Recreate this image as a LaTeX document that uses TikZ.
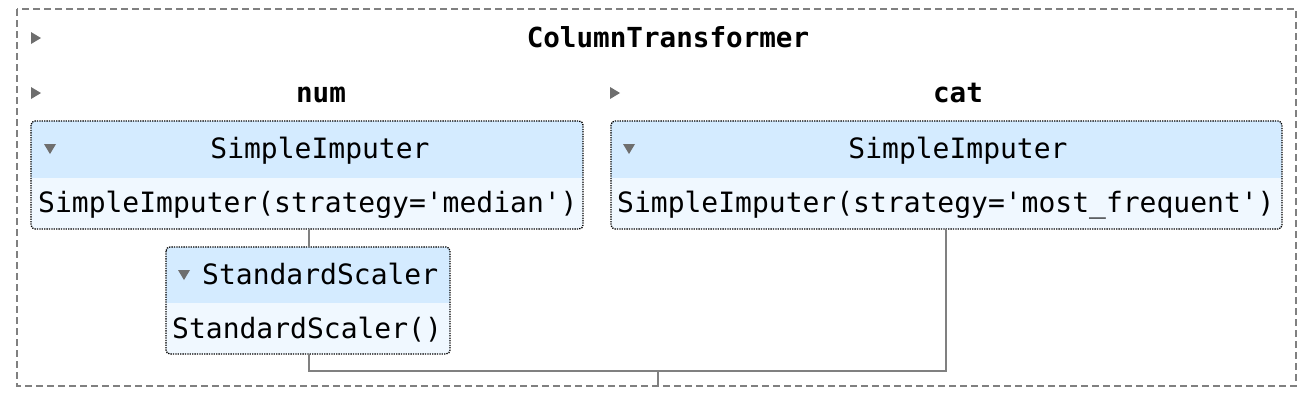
\documentclass[tikz,border=0pt]{standalone}
\usepackage{fontspec}
\setmonofont{DejaVu Sans Mono}
\begin{document}
\begin{tikzpicture}[x=1pt,y=-1pt,
  txt/.style={font=\ttfamily\fontsize{28}{30}\selectfont, inner sep=0pt, anchor=base},
  ttl/.style={font=\ttfamily\bfseries\fontsize{27.6}{30}\selectfont, inner sep=0pt, anchor=base},
  hdr/.style={fill=hdrblue, draw=none},
  bdy/.style={fill=bodyblue, draw=none},
  frame/.style={draw=black, line width=1.3pt, dash pattern=on 1.3pt off 1.1pt, rounded corners=4pt},
  conn/.style={draw=linegray, line width=2pt},
  tri/.style={fill=trigray, draw=none}
]
\definecolor{hdrblue}{HTML}{D4EBFF}
\definecolor{bodyblue}{HTML}{F0F8FF}
\definecolor{linegray}{HTML}{808080}
\definecolor{trigray}{HTML}{6E6E6E}
\useasboundingbox (0,0) rectangle (1307,407);
% outer dashed frame
\draw[draw=linegray, line width=1.5pt, dash pattern=on 7pt off 4pt] (17,9) rectangle (1296,386);
% header triangles
\fill[tri] (31,32) -- (41,38) -- (31,44) -- cycle;
\fill[tri] (31,87) -- (41,93) -- (31,99) -- cycle;
\fill[tri] (610,87) -- (620,93) -- (610,99) -- cycle;
\node[ttl] (ct) at (668,47) {ColumnTransformer};
\node[ttl] (num) at (321,102) {num};
\node[ttl] (cat) at (958,102) {cat};
% box 1
\begin{scope}
\clip[rounded corners=4pt] (31,121) rectangle (583,229);
\fill[hdr] (31,121) rectangle (583,178);
\fill[bdy] (31,178) rectangle (583,229);
\end{scope}
\draw[frame] (31,121) rectangle (583,229);
\coordinate (b1) at (309,229);
\fill[tri] (44,144) -- (56,144) -- (50,154) -- cycle;
\node[txt] (si1) at (320,158) {SimpleImputer};
\node[txt, anchor=base west] (si1b) at (38,212) {SimpleImputer(strategy='median')};
% box 2
\begin{scope}
\clip[rounded corners=4pt] (611,121) rectangle (1282,229);
\fill[hdr] (611,121) rectangle (1282,178);
\fill[bdy] (611,178) rectangle (1282,229);
\end{scope}
\draw[frame] (611,121) rectangle (1282,229);
\coordinate (b2) at (946,229);
\fill[tri] (623,144) -- (635,144) -- (629,154) -- cycle;
\node[txt] (si2) at (958,158) {SimpleImputer};
\node[txt, anchor=base west] (si2b) at (617,212) {SimpleImputer(strategy='most\_frequent')};
% box 3
\begin{scope}
\clip[rounded corners=4pt] (166,247) rectangle (450,354);
\fill[hdr] (166,247) rectangle (450,303);
\fill[bdy] (166,303) rectangle (450,354);
\end{scope}
\draw[frame] (166,247) rectangle (450,354);
\coordinate (t3) at (309,247);
\coordinate (b3) at (309,354);
\fill[tri] (178,270) -- (190,270) -- (184,280) -- cycle;
\node[txt, anchor=base west] (ss) at (202,284) {StandardScaler};
\node[txt, anchor=base west] (ssb) at (172,338) {StandardScaler()};
% connectors
\coordinate (j) at (658,371);
\coordinate (jb) at (658,386);
\draw[conn] (b1) -- (t3);
\draw[conn] (b3) |- (j) -| (b2);
\draw[conn] (j) -- (jb);
\end{tikzpicture}
\end{document}
